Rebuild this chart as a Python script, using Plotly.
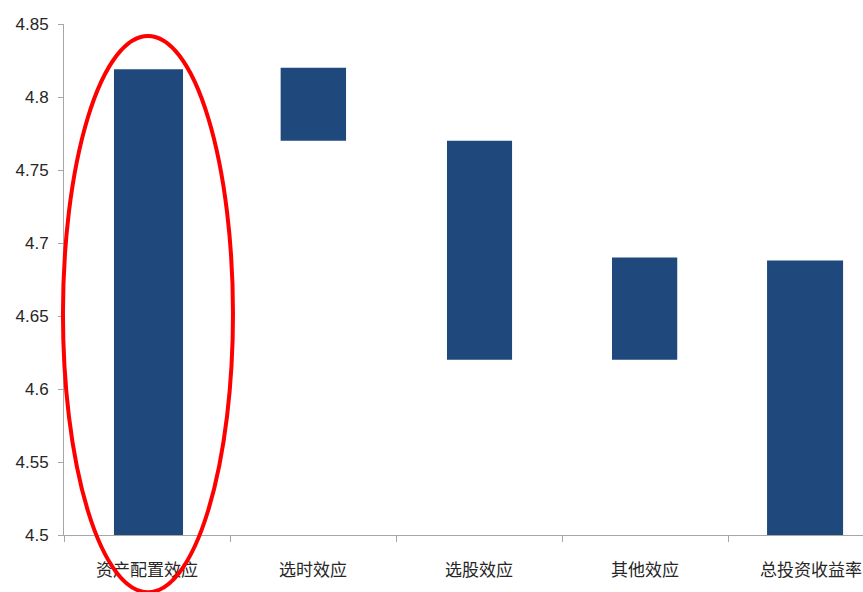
import plotly.graph_objects as go

# Return attribution: each effect floats between its start and end level
categories = ["资产配置效应", "选时效应", "选股效应", "其他效应", "总投资收益率"]
bar_low = [4.5, 4.77, 4.62, 4.62, 4.5]
bar_high = [4.819, 4.82, 4.77, 4.69, 4.688]
bar_widths = [0.416, 0.394, 0.392, 0.393, 0.458]
bar_offsets = [-0.199, -0.195, -0.193, -0.199, -0.265]

y_min, y_max, y_step = 4.5, 4.85, 0.05

bar_color = "#1F497D"
axis_color = "#A6A6A6"
text_color = "#262626"
font_family = "Liberation Sans, Arial, Noto Sans CJK SC, sans-serif"

fig = go.Figure()
fig.add_trace(go.Bar(
    x=categories,
    y=[h - l for l, h in zip(bar_low, bar_high)],
    base=bar_low,
    width=bar_widths,
    offset=bar_offsets,
    marker=dict(color=bar_color, line=dict(width=0)),
    hoverinfo="skip",
))

# Highlight ring around the asset-allocation bar
fig.add_shape(
    type="circle",
    xref="paper", yref="paper",
    x0=-0.0013, x1=0.2115,
    y0=-0.112, y1=0.9765,
    line=dict(color="#FF0000", width=4),
    layer="above",
)

fig.update_layout(
    width=863, height=592,
    margin=dict(l=64, r=0, t=24, b=57),
    paper_bgcolor="white",
    plot_bgcolor="white",
    showlegend=False,
    font=dict(family=font_family, size=17, color=text_color),
    xaxis=dict(
        range=[-0.5, 4.313],
        showline=True, linecolor=axis_color, linewidth=1,
        ticks="outside", tickson="boundaries", ticklen=6, tickcolor=axis_color,
        showgrid=False, zeroline=False,
        ticklabelstandoff=20,
        tickfont=dict(size=17, color=text_color),
    ),
    yaxis=dict(
        range=[y_min, y_max],
        dtick=y_step, tick0=y_min,
        showline=True, linecolor=axis_color, linewidth=1,
        ticks="outside", ticklen=5, tickcolor=axis_color,
        showgrid=False, zeroline=False,
        ticklabelstandoff=6,
        tickfont=dict(size=17, color=text_color),
    ),
)

fig.write_html("out.html")
